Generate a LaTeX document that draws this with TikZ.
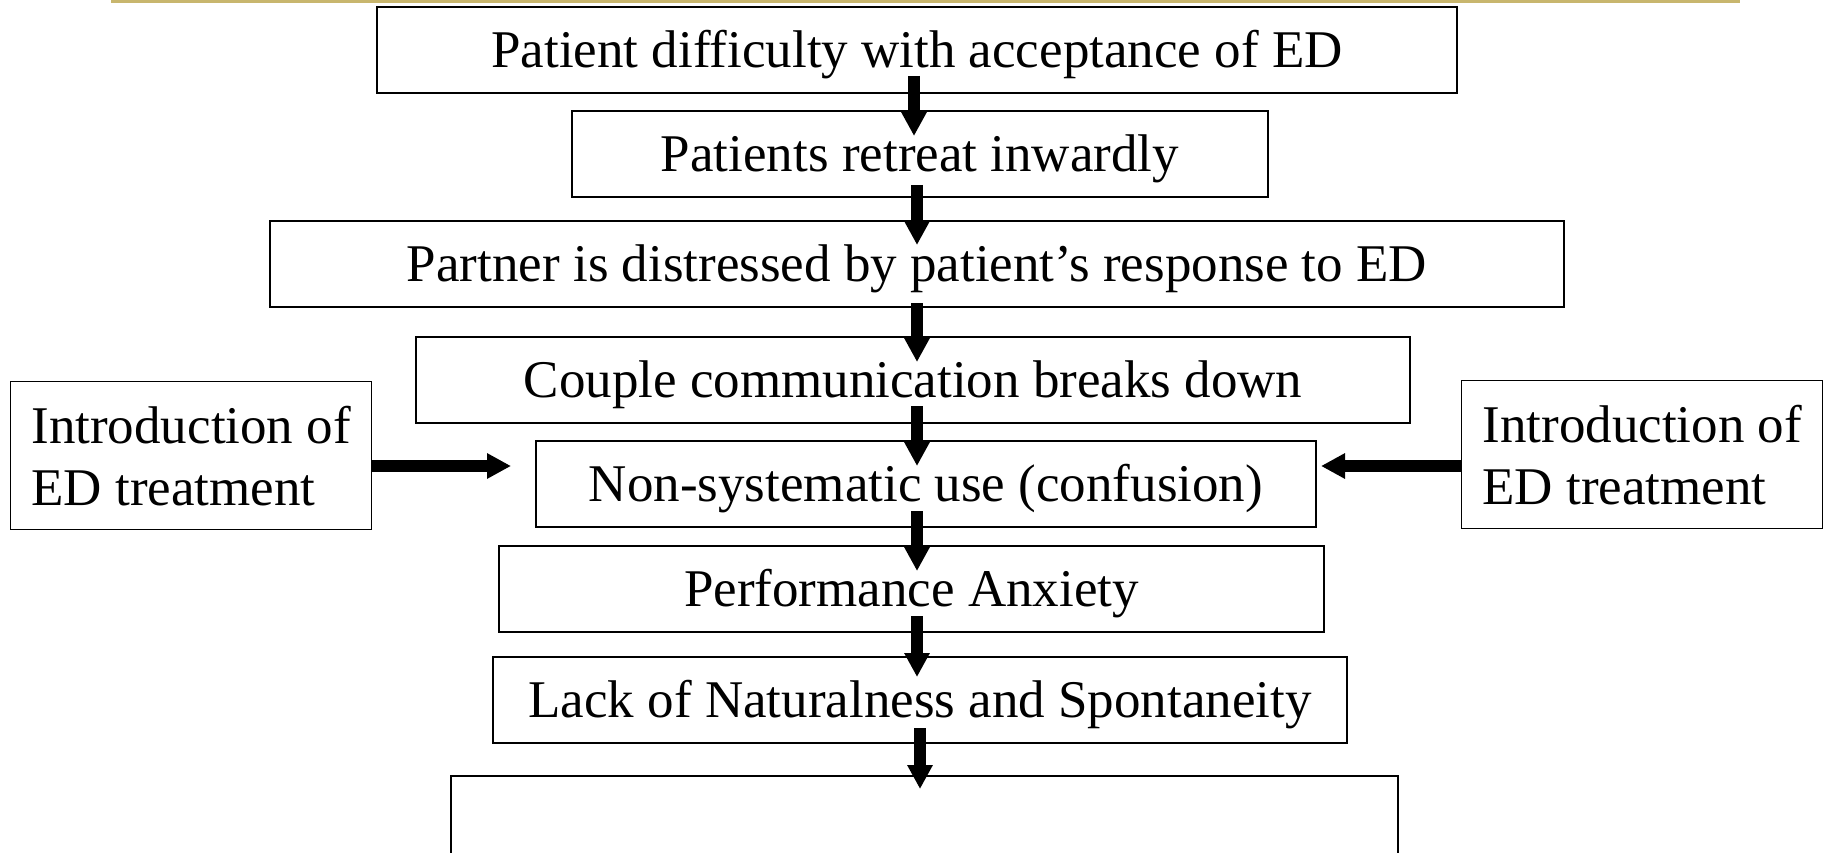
\documentclass[tikz,border=0pt]{standalone}
\usepackage{fontspec}
\setmainfont{Liberation Serif}
\usetikzlibrary{arrows.meta,calc}
\definecolor{gold}{RGB}{200,182,110}
\begin{document}
\begin{tikzpicture}[x=1pt,y=-1pt,
  box/.style={draw, line width=2pt, inner sep=0pt, minimum height=86pt, anchor=north west,
    font=\fontsize{53}{61}\selectfont, text height=40pt, text depth=5pt},
  side/.style={draw, line width=1.3pt, inner sep=0pt, minimum width=361pt, minimum height=148pt,
    anchor=north west, align=left, font=\fontsize{53}{62}\selectfont},
  flow/.style={line width=12pt, -{Triangle[width=24pt,length=24pt]}}]
\useasboundingbox (0,0) rectangle (1827,853);
\clip (0,0) rectangle (1827,853);
\fill[gold] (111,0) rectangle (1740,3);
\node[box, minimum width=1080pt] (b1) at (376,6) {Patient difficulty with acceptance of ED};
\node[box, minimum width=696pt] (b2) at (571,110) {Patients retreat inwardly};
\node[box, minimum width=1294pt] (b3) at (269,220) {Partner is distressed by patient’s response to ED};
\node[box, minimum width=994pt] (b4) at (415,336) {Couple communication breaks down};
\node[box, minimum width=780pt] (b5) at (535,440) {Non-systematic use (confusion)};
\node[box, minimum width=825pt] (b6) at (498,545) {Performance Anxiety};
\node[box, minimum width=854pt] (b7) at (492,656) {Lack of Naturalness and Spontaneity};
\node[box, minimum width=947pt, minimum height=120pt] (b8) at (450,775) {};
\node[side] (lbox) at (10,381) {Introduction of\\ED treatment};
\node[side] (rbox) at (1461,380) {Introduction of\\ED treatment};
\coordinate (ax1) at (914,0);
\coordinate (ax) at (917,0);
\coordinate (ax7) at (920,0);
\coordinate (ay) at (0,466);
\draw[flow] ([yshift=18pt]b1.south -| ax1) -- ([yshift=-26pt]b2.north -| ax1);
\draw[flow] ([yshift=13pt]b2.south -| ax) -- ([yshift=-25pt]b3.north -| ax);
\draw[flow] ([yshift=5pt]b3.south -| ax) -- ([yshift=-26pt]b4.north -| ax);
\draw[flow] ([yshift=18pt]b4.south -| ax) -- ([yshift=-26pt]b5.north -| ax);
\draw[flow] ([yshift=17pt]b5.south -| ax) -- ([yshift=-26pt]b6.north -| ax);
\draw[flow] ([yshift=17pt]b6.south -| ax) -- ([yshift=-21pt]b7.north -| ax);
\draw[flow] ([yshift=16pt]b7.south -| ax7) -- ([yshift=-14pt]b8.north -| ax7);
\draw[flow] (lbox.east |- ay) -- ([xshift=-24pt]b5.west |- ay);
\draw[flow] (rbox.west |- ay) -- ([xshift=4pt]b5.east |- ay);
\end{tikzpicture}
\end{document}
